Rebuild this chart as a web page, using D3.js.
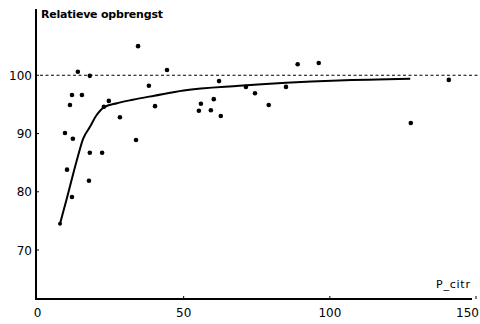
<!DOCTYPE html>
<html>
<head>
<meta charset="utf-8">
<script src="https://cdn.jsdelivr.net/npm/d3@7"></script>
<style>
  body { margin: 0; background: #fff; }
  svg { display: block; }
  text { font-family: "DejaVu Sans", sans-serif; fill: #000; }
</style>
</head>
<body>
<svg id="chart" width="480" height="324"></svg>
<script>
// observed points (P_citr, relatieve opbrengst)
var pointX = [9.4, 10.1, 11.1, 11.8, 11.8, 12.1, 13.8, 15.2, 17.6, 17.9, 17.9, 22.1, 22.7, 24.4,
              28.2, 33.7, 34.4, 38.1, 40.2, 44.3, 55.2, 55.9, 59.3, 60.3, 62.1, 62.7,
              71.3, 74.4, 79.1, 85.0, 89.0, 96.2, 127.7, 140.7];
var pointY = [90.1, 83.8, 94.9, 96.6, 79.1, 89.1, 100.6, 96.6, 81.9, 99.9, 86.7, 86.7, 94.6, 95.6,
              92.8, 88.9, 105.0, 98.2, 94.7, 100.9, 93.9, 95.1, 94.0, 95.9, 99.0, 93.0,
              98.0, 96.9, 94.9, 98.0, 101.9, 102.1, 91.8, 99.2];

// fitted response curve
var curveX = [7.7, 10, 13.5, 15.6, 17.9, 20, 22.7, 27.2, 32.6, 40, 50, 69, 85, 103, 127.5];
var curveY = [74.5, 78.8, 85.5, 89.1, 91.1, 93.0, 94.5, 95.2, 95.8, 96.5, 97.4, 98.2, 98.7, 99.1, 99.4];

var yTicks = [70, 80, 90, 100];
var xTicks = [0, 50, 100, 150];
var refLevel = 100;

var svg = d3.select("#chart");

var x = d3.scaleLinear().domain([0, 150]).range([37.5, 476]);
var y = d3.scaleLinear().domain([61.6, 111.2]).range([299, 10]);

var axisX = 36, axisY = 299;

// axes lines
svg.append("line")
    .attr("x1", axisX).attr("x2", axisX)
    .attr("y1", 9).attr("y2", axisY + 1)
    .attr("stroke", "#000").attr("stroke-width", 2);

svg.append("line")
    .attr("x1", axisX - 1).attr("x2", 472)
    .attr("y1", axisY).attr("y2", axisY)
    .attr("stroke", "#000").attr("stroke-width", 2);

// y ticks
var yt = svg.append("g");
yt.selectAll("line").data(yTicks).enter().append("line")
    .attr("x1", axisX).attr("x2", axisX + 3)
    .attr("y1", d => y(d)).attr("y2", d => y(d))
    .attr("stroke", "#000").attr("stroke-width", 1);
yt.selectAll("text").data(yTicks).enter().append("text")
    .attr("x", 32)
    .attr("y", d => y(d) + 4.5)
    .attr("text-anchor", "end")
    .attr("font-size", 12)
    .text(d => d);

// x ticks
var xt = svg.append("g");
xt.selectAll("line").data(xTicks.slice(1)).enter().append("line")
    .attr("x1", d => x(d)).attr("x2", d => x(d))
    .attr("y1", axisY).attr("y2", axisY - 3)
    .attr("stroke", "#000").attr("stroke-width", 1);
// last label sits against the right edge
xt.selectAll("text").data(xTicks).enter().append("text")
    .attr("x", (d, i) => i == xTicks.length - 1 ? 479 : x(d))
    .attr("y", 317)
    .attr("text-anchor", (d, i) => i == xTicks.length - 1 ? "end" : "middle")
    .attr("font-size", 12)
    .text(d => d);

// reference line at 100
svg.append("line")
    .attr("x1", 40).attr("x2", 480)
    .attr("y1", y(refLevel)).attr("y2", y(refLevel))
    .attr("stroke", "#000").attr("stroke-width", 1.2)
    .attr("stroke-dasharray", "3,2.5");

// curve
var curve = curveX.map((d, i) => [d, curveY[i]]);
svg.append("path")
    .datum(curve)
    .attr("fill", "none")
    .attr("stroke", "#000")
    .attr("stroke-width", 2)
    .attr("d", d3.line()
        .x(d => x(d[0]))
        .y(d => y(d[1]))
        .curve(d3.curveMonotoneX));

svg.append("circle")
    .attr("cx", x(curveX[0])).attr("cy", y(curveY[0]))
    .attr("r", 2).attr("fill", "#000");

// points
var pts = pointX.map((d, i) => [d, pointY[i]]);
svg.append("g").selectAll("circle")
    .data(pts)
    .enter().append("circle")
    .attr("cx", d => x(d[0]))
    .attr("cy", d => y(d[1]))
    .attr("r", 2.3)
    .attr("fill", "#000");

// labels
svg.append("text")
    .attr("x", 41).attr("y", 18)
    .attr("font-size", 11)
    .attr("font-weight", "bold")
    .attr("textLength", 122)
    .text("Relatieve opbrengst");

svg.append("text")
    .attr("x", 436).attr("y", 288)
    .attr("font-size", 11)
    .attr("textLength", 34)
    .text("P_citr");
</script>
</body>
</html>
